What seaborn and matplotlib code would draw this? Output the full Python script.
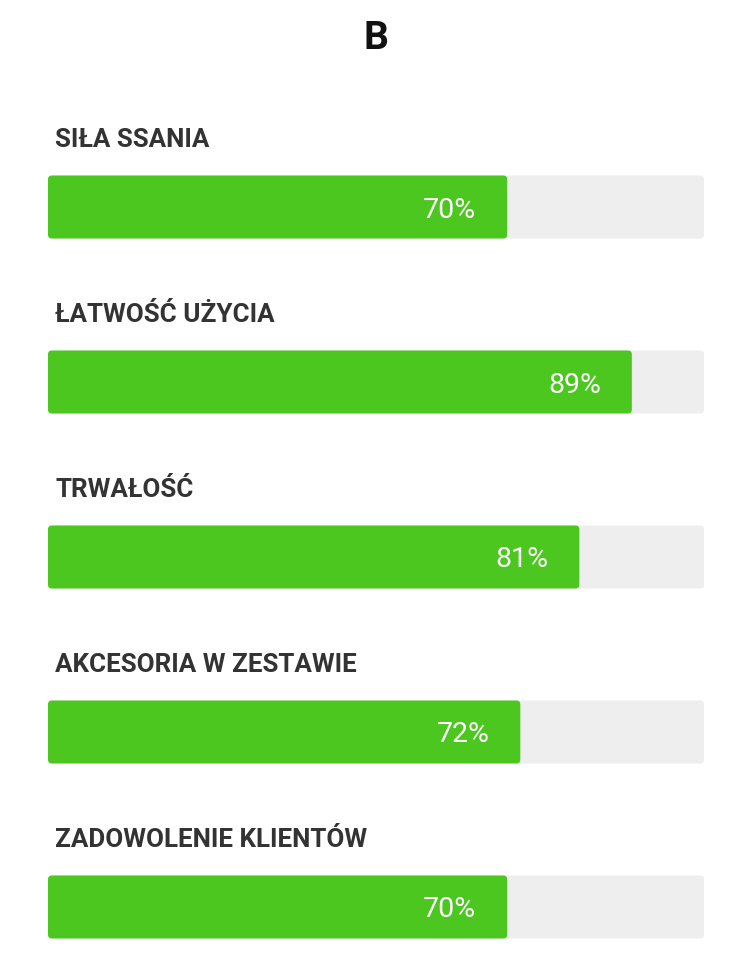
import pandas as pd
import seaborn as sns
import matplotlib.pyplot as plt
from matplotlib.patches import FancyBboxPatch

# Data
categories = ['SIŁA SSANIA', 'ŁATWOŚĆ UŻYCIA', 'TRWAŁOŚĆ',
              'AKCESORIA W ZESTAWIE', 'ZADOWOLENIE KLIENTÓW']
scores = [70, 89, 81, 72, 70]
full = [100] * len(categories)

df = pd.DataFrame({'category': categories, 'score': scores, 'full': full})

sns.set_theme(style='white')
plt.rcParams['font.family'] = ['Roboto', 'DejaVu Sans']

fig = plt.figure(figsize=(7.52, 9.74), dpi=100)
ax = fig.add_axes([48 / 752, 0.0149, 656 / 752, 0.8624])

# grey track, then green score bar on top
sns.barplot(data=df, x='full', y='category', color='#eeeeee', width=0.36,
            saturation=1, ax=ax)
sns.barplot(data=df, x='score', y='category', color='#4cc71f', width=0.36,
            saturation=1, ax=ax)

ax.set_xlim(0, 100)
ax.set_ylim(4.3, -0.5)

# swap plain rectangles for rounded ones
aspect = (656 / 100) / (0.8624 * 974 / 4.8)
for p in list(ax.patches):
    x, y, w, h = p.get_x(), p.get_y(), p.get_width(), p.get_height()
    rb = FancyBboxPatch((x, y), w, h,
                        boxstyle='round,pad=0,rounding_size=0.6',
                        mutation_aspect=aspect,
                        facecolor=p.get_facecolor(), edgecolor='none',
                        zorder=p.get_zorder())
    p.remove()
    ax.add_patch(rb)

# labels
for i, (cat, s) in enumerate(zip(categories, scores)):
    ax.text(1.07, i - 0.345, cat, ha='left', va='baseline', fontsize=18.7,
            fontweight='bold', color='#333333')
    ax.text(s - 4.7, i + 0.06, f'{s}%', ha='right', va='baseline',
            fontsize=20.5, color='white', zorder=5)

ax.axis('off')

fig.text(0.5, 0.9497, 'B', ha='center', va='baseline', fontsize=28,
         fontweight='bold', color='#111111')

fig.savefig('out.png', dpi=100)
plt.close()
